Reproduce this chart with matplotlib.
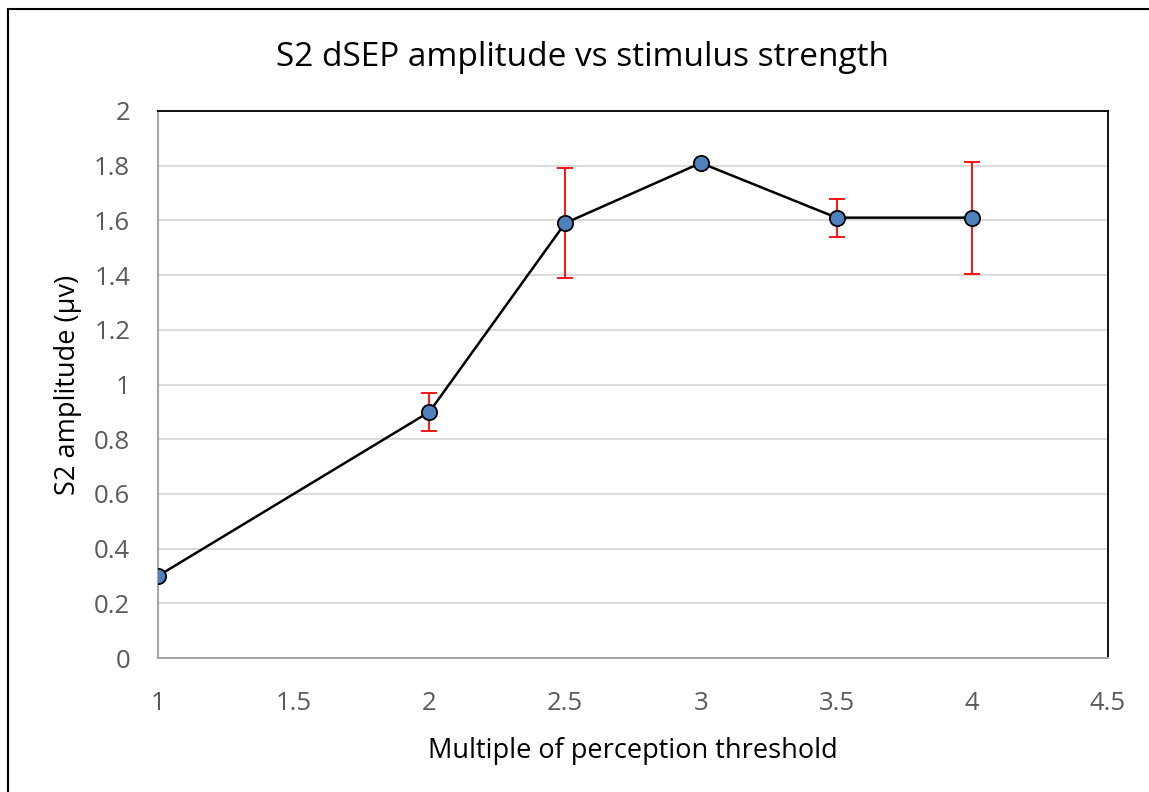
import matplotlib.pyplot as plt
from matplotlib.patches import Rectangle

plt.rcParams['font.family'] = ['Open Sans', 'DejaVu Sans']

# Data
multiples = [1, 2, 2.5, 3, 3.5, 4]
amplitude = [0.30, 0.90, 1.59, 1.81, 1.61, 1.61]
errors = [0.0, 0.07, 0.20, 0.0, 0.07, 0.205]

xticks = [1, 1.5, 2, 2.5, 3, 3.5, 4, 4.5]
yticks = [0, 0.2, 0.4, 0.6, 0.8, 1, 1.2, 1.4, 1.6, 1.8, 2]

W, H = 1149, 792
fig = plt.figure(figsize=(W / 100, H / 100), dpi=100)
ax = fig.add_axes([158 / W, 1 - 658 / H, (1108 - 158) / W, (658 - 111) / H])

# outer chart border (Excel style, runs off the right/bottom edge)
fig.patches.append(Rectangle((8 / W, -0.05), 1.2, 1 - 9 / H + 0.05,
                             transform=fig.transFigure, fill=False,
                             edgecolor='black', linewidth=1.5))

ax.errorbar(multiples, amplitude, yerr=errors, fmt='none', ecolor='red',
            elinewidth=1.3, capsize=6, capthick=1.3, zorder=2)
ax.plot(multiples, amplitude, color='black', linewidth=1.8, marker='o',
        markersize=11, markerfacecolor='#4f81bd', markeredgecolor='black',
        markeredgewidth=1.3, zorder=3)

ax.set_xlim(1, 4.5)
ax.set_ylim(0, 2)
ax.set_xticks(xticks)
ax.set_xticklabels([f'{t:g}' for t in xticks])
ax.set_yticks(yticks)
ax.set_yticklabels([f'{t:g}' for t in yticks])
ax.grid(axis='y', color='#d9d9d9', linewidth=1.3)
ax.set_axisbelow(True)
ax.tick_params(length=0, labelsize=18.5, labelcolor='#595959')
ax.tick_params(axis='x', pad=24)
ax.tick_params(axis='y', pad=20)

for side in ['left', 'bottom']:
    ax.spines[side].set_color('#a6a6a6')
    ax.spines[side].set_linewidth(1.5)
for side in ['top', 'right']:
    ax.spines[side].set_color('black')
    ax.spines[side].set_linewidth(1.3)

# titles placed like the Excel chart
fig.text(582 / W, 1 - 66 / H, 'S2 dSEP amplitude vs stimulus strength',
         fontsize=24, ha='center', va='baseline')
fig.text(633 / W, 1 - 758 / H, 'Multiple of perception threshold',
         fontsize=19.5, ha='center', va='baseline')
fig.text(68 / W, 1 - 385 / H, 'S2 amplitude (µv)', fontsize=19.5,
         rotation=90, ha='center', va='center')

fig.savefig('out.png', dpi=100)
